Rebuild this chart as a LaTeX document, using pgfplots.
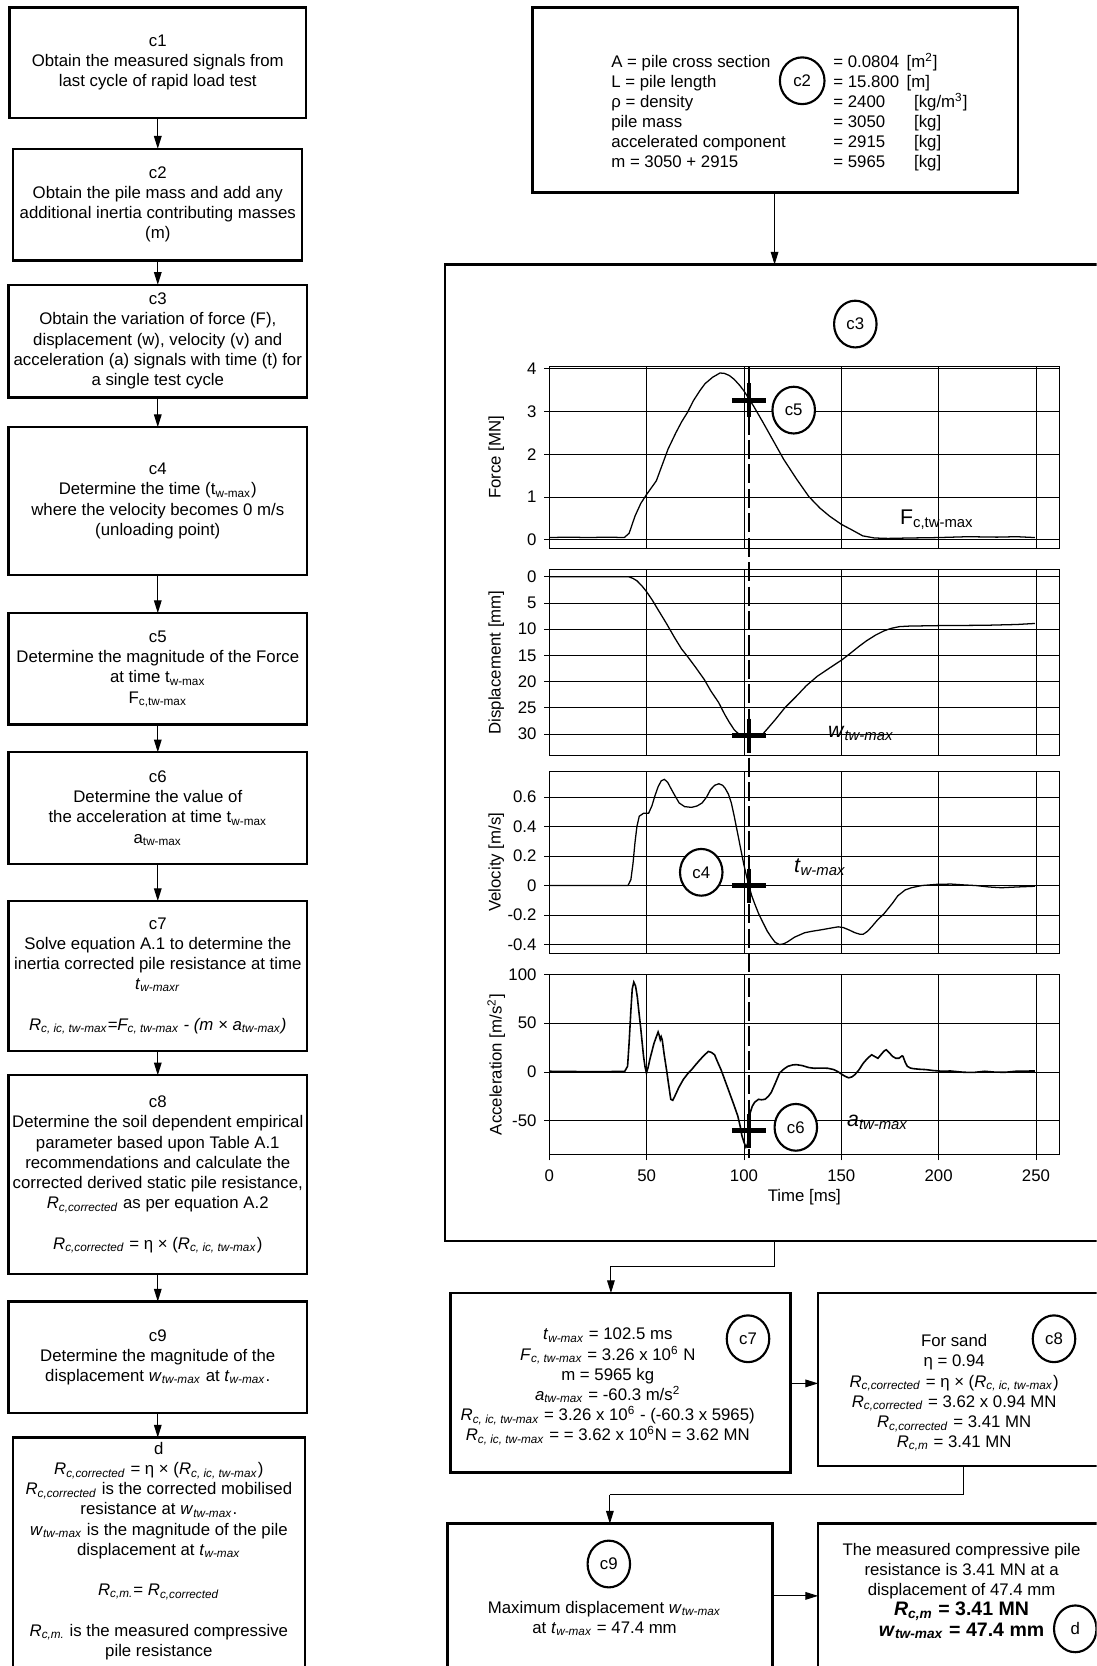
\documentclass[border=0pt]{standalone}
\usepackage{fontspec}
\setmainfont{Liberation Sans}
\usepackage{pgfplots}
\pgfplotsset{compat=1.18}
\usetikzlibrary{arrows.meta}

\newcommand\fs{\fontsize{7.9}{9.5}\selectfont}
\newcommand\fl{\fontsize{10}{12}\selectfont}
\newcommand\fb{\fontsize{9.2}{11}\selectfont\bfseries}
\newcommand\su[1]{\textsubscript{#1}}
\newcommand\si[1]{\textsubscript{\textit{#1}}}

% time histories of the last rapid load test cycle
\pgfplotstableread{
t F
0 0.05
10 0.06
20 0.05
30 0.06
38.5 0.05
41 0.15
44 0.55
47 0.85
50 1.06
53 1.25
55 1.38
58 1.75
61 2.12
65 2.5
68 2.76
71 2.98
74 3.25
77.4 3.49
80 3.65
83.9 3.8
87.7 3.9
90 3.89
92.5 3.84
95 3.75
97.8 3.61
100 3.48
102.5 3.3
105 3.12
109.7 2.75
115 2.32
120.4 1.88
127 1.42
133.3 1.01
139 0.74
144 0.55
150 0.36
155 0.24
161 0.09
167 0.04
174 0.03
185 0.04
200 0.05
215 0.07
230 0.06
240 0.07
249.5 0.05
}\force

\pgfplotstableread{
t w
0 0
20 0
40.9 0
43 0.3
45 0.75
47.5 1.7
50 2.85
53 4.5
55.9 6.3
60 8.8
64.5 11.7
68 13.8
71 15.2
75 17.2
79.6 19.6
83 21.8
87 24
90 26.2
92.5 27.8
95 29.2
97 29.9
100 30.3
102.5 30.5
106 30.4
109.7 30.0
113 28.6
116 27.3
121 25.0
126.9 22.8
132 20.8
137.6 19
144 17.4
150.5 15.8
155 14.5
159 13.3
163 12.2
167.7 11.1
172 10.3
176 9.8
180 9.5
185 9.4
202 9.3
223.6 9.25
240 9.1
249.5 8.9
}\displ

\pgfplotstableread{
t v
0 0
20 0
40.4 0
41.9 0.04
43 0.15
44 0.29
45 0.4
46.2 0.47
48.4 0.49
51 0.49
52.7 0.54
54.3 0.61
55.9 0.67
57.5 0.71
59.1 0.72
60.8 0.70
62.4 0.66
64.5 0.61
66.7 0.56
69.5 0.535
73.1 0.53
76 0.54
78.5 0.56
80.8 0.6
82.8 0.65
85 0.68
87.1 0.69
89 0.68
90.3 0.66
92 0.62
93.5 0.56
95 0.47
96.8 0.35
98.3 0.25
99.8 0.15
101.2 0.07
102.5 0
104 -0.07
105.4 -0.12
107.5 -0.19
109.7 -0.25
112 -0.31
114 -0.35
116 -0.385
118.3 -0.40
120.5 -0.395
122.6 -0.38
126 -0.35
131.2 -0.32
135 -0.31
139.8 -0.30
144 -0.29
148.4 -0.28
151 -0.285
153.8 -0.30
157 -0.32
159.5 -0.33
161.3 -0.33
163.5 -0.31
165.6 -0.28
168.5 -0.235
172 -0.19
176.3 -0.12
179 -0.07
182.8 -0.03
186 -0.015
191.4 0
199 0.008
206.5 0.01
212 0.005
219 0
226 -0.01
232.3 -0.015
240 -0.01
249.5 -0.005
}\veloc

\pgfplotstableread{
t a
0 0.7
10 0.5
20 0.3
30 0.4
38.7 0.5
40.2 5.8
41 30
41.9 63
42.6 85
43.4 92
44.3 88
45.2 77
46 62
46.9 46
47.7 30
48.4 16
49.2 5
49.9 -1
50.8 5
51.6 12.5
52.7 21
53.8 29.5
54.8 35
55.9 41
56.4 38
57 33
57.5 36
58 33
59 18
60.2 2.4
61.3 -13
62.4 -28
63.4 -29
64.5 -24.7
66.5 -16
68.8 -7.8
71 -2
73.1 2.4
75 7
77.4 12.5
79.5 17
81.7 21
83.3 20
84.9 17.6
86.5 10
88.2 2.4
90.3 -9
92.5 -21
94.7 -33
96.8 -45
98 -55
98.9 -65
100 -72
101 -77
101.8 -74
102.4 -62
102.8 -50
103.2 -41.7
104.3 -35
105.5 -31
107.5 -28
109 -28.5
110.8 -28
112.5 -25
114 -21
116 -12
118.3 -1
120.5 3
122.6 5.8
125 7.2
126.9 7.5
130 6.5
133.3 4.5
136 3.8
139.8 4
143 3.8
146.2 2.4
148.5 0
150.5 -2.7
152 -4.5
153.8 -6
155.5 -5
157 -2.7
159 2
161.3 9
163.5 14
165.6 17.6
167 16
168.8 14
170.5 18
172 21.5
173.1 22.7
174.5 20
176.3 16
178 14
179.6 14
181.2 16.5
181.7 16
182.8 10
183.9 5.8
185.5 4
187 3.4
190 2.8
193.5 2.4
197 1.5
202 0.7
206 1
212.9 -0.3
218 -0.5
223.7 0.7
229 -0.2
234.4 -0.3
240 0.8
249.5 1
}\accel

\pgfplotsset{
  panel/.style={
    anchor=north west, scale only axis, width=240pt,
    xmin=0, xmax=262, xtick={0,50,100,150,200,250},
    grid=major, major grid style={black, line width=0.4pt},
    axis line style={line width=0.5pt},
    tick align=outside, tick pos=left, major tick length=2.5pt,
    tick style={black, line width=0.4pt},
    tick label style={font=\fs},
    every axis y label/.style={at={(axis description cs:-0.104,0.5)}, rotate=90, anchor=center, font=\fs},
    every axis x label/.style={at={(axis description cs:0.5,-0.235)}, anchor=center, font=\fs},
  },
  upper/.style={xticklabels={}, xtick align=inside},
  curve/.style={black, line width=0.6pt},
  hit/.style={only marks, mark=+, mark size=8pt, mark options={line width=2.2pt, black}},
}

\tikzset{
  box/.style={draw, line width=1.15pt},
  txt/.style={align=center, font=\fs, inner sep=0pt},
  arr/.style={line width=0.5pt, -{Triangle[length=6pt,width=3.6pt]}},
  ln/.style={line width=0.5pt},
  tag/.style={font=\fl, anchor=base west, inner sep=0pt},
}

\begin{document}
\begin{tikzpicture}[x=0.5pt,y=-0.5pt]
\path[use as bounding box] (0,0) rectangle (1032,1568);
\clip (0,0) rectangle (1032,1568);

% ---------- left column: procedure ----------
\draw[box] (9,7) rectangle (288,111);
\node[txt] at (148.5,59) {c1\\Obtain the measured signals from\\last cycle of rapid load test};
\draw[arr] (148.5,111) -- (148.5,140);
\draw[box] (12,140) rectangle (284,245);
\node[txt] at (148.5,192.5) {c2\\Obtain the pile mass and add any\\additional inertia contributing masses\\(m)};
\draw[arr] (148.5,245) -- (148.5,268);
\draw[box] (8,268) rectangle (289,374);
\node[txt] at (148.5,321) {c3\\Obtain the variation of force (F),\\displacement (w), velocity (v) and\\acceleration (a) signals with time (t) for\\a single test cycle};
\draw[arr] (148.5,374) -- (148.5,402);
\draw[box] (8,402) rectangle (289,541);
\node[txt] at (148.5,471.5) {c4\\Determine the time (t\su{w-max})\\where the velocity becomes 0 m/s\\(unloading point)};
\draw[arr] (148.5,541) -- (148.5,577);
\draw[box] (8,577) rectangle (289,682);
\node[txt] at (148.5,629.5) {c5\\Determine the magnitude of the Force\\at time t\su{w-max}\\F\su{c,tw-max}};
\draw[arr] (148.5,682) -- (148.5,708);
\draw[box] (8,708) rectangle (289,813);
\node[txt] at (148.5,760.5) {c6\\Determine the value of\\the acceleration at time t\su{w-max}\\a\su{tw-max}};
\draw[arr] (148.5,813) -- (148.5,848);
\draw[box] (8,848) rectangle (289,989);
\node[txt] at (148.5,918.5) {c7\\Solve equation A.1 to determine the\\inertia corrected pile resistance at time\\\textit{t}\si{w-maxr}\\[9.5pt]\textit{R\si{c, ic, tw-max}=F\si{c, tw-max} - (m × a\si{tw-max})}};
\draw[arr] (148.5,989) -- (148.5,1012);
\draw[box] (8,1012) rectangle (289,1199);
\node[txt] at (148.5,1105.5) {c8\\Determine the soil dependent empirical\\parameter based upon Table A.1\\recommendations and calculate the\\corrected derived static pile resistance,\\\textit{R}\si{c,corrected} as per equation A.2\\[9.5pt]\textit{R}\si{c,corrected} = η × (\textit{R}\si{c, ic, tw-max})};
\draw[arr] (148.5,1199) -- (148.5,1225);
\draw[box] (8,1225) rectangle (289,1330);
\node[txt] at (148.5,1277.5) {c9\\Determine the magnitude of the\\displacement \textit{w}\si{tw-max} at \textit{t}\si{w-max}.};
\draw[arr] (148.5,1330) -- (148.5,1353);
\draw[box] (12,1353) rectangle (287,1600);
\node[txt, anchor=north] at (149.5,1357) {d\\\textit{R}\si{c,corrected} = η × (\textit{R}\si{c, ic, tw-max})\\\textit{R}\si{c,corrected} is the corrected mobilised\\resistance at \textit{w}\si{tw-max}.\\\textit{w}\si{tw-max} is the magnitude of the pile\\displacement at \textit{t}\si{w-max}\\[9.5pt]\textit{R}\si{c,m.}= \textit{R}\si{c,corrected}\\[9.5pt]\textit{R}\si{c,m.} is the measured compressive\\pile resistance};

% ---------- pile data ----------
\draw[box] (501,7) rectangle (958,181);
\draw[line width=1pt] (755,76) ellipse [x radius=21, y radius=22];
\node[font=\fs] at (755,76) {c2};
\begin{scope}[every node/.style={font=\fs, anchor=base west, inner sep=0pt}]
\node at (575,64) {A = pile cross section};
\node at (575,82.5) {L = pile length};
\node at (575,101.5) {ρ = density};
\node at (575,120) {pile mass};
\node at (575,139) {accelerated component};
\node at (575,158) {m = 3050 + 2915};
\node at (784,64) {= 0.0804};
\node at (784,82.5) {= 15.800};
\node at (784,101.5) {= 2400};
\node at (784,120) {= 3050};
\node at (784,139) {= 2915};
\node at (784,158) {= 5965};
\node at (853,64) {[m\textsuperscript{2}]};
\node at (853,82.5) {[m]};
\node at (860,101.5) {[kg/m\textsuperscript{3}]};
\node at (860,120) {[kg]};
\node at (860,139) {[kg]};
\node at (860,158) {[kg]};
\end{scope}
\draw[arr] (729,181) -- (729,249);

% ---------- measured signals ----------
\draw[box] (419,249) rectangle (1060,1168);
\draw[line width=1pt] (805,305) ellipse [x radius=20, y radius=22];
\node[font=\fs] at (805,305) {c3};

\begin{axis}[panel, upper, at={(258.5pt,-172.5pt)}, height=85.5pt,
  ymin=-0.2, ymax=4.05, ytick={0,1,2,3,4}, yticklabels={0,1,2,3,4},
  ylabel={Force [MN]}]
\addplot[curve] table[x=t,y=F] {\force};
\addplot[hit] coordinates {(102.5,3.26)};
\node[tag] at (axis cs:180,0.35) {F\su{c,tw-max}};
\coordinate (dtop) at (axis cs:102.5,4.05);
\end{axis}

\begin{axis}[panel, upper, at={(258.5pt,-268pt)}, height=87.5pt,
  y dir=reverse, ymin=-1.4, ymax=34.1, ytick={0,5,10,15,20,25,30},
  yticklabels={0,5,10,15,20,25,30}, ylabel={Displacement [mm]}]
\addplot[curve] table[x=t,y=w] {\displ};
\addplot[hit] coordinates {(102.5,30.3)};
\node[tag] at (axis cs:143,30.6) {\textit{w}\si{tw-max}};
\end{axis}

\begin{axis}[panel, upper, at={(258.5pt,-363pt)}, height=85.5pt,
  ymin=-0.458, ymax=0.774, ytick={-0.4,-0.2,0,0.2,0.4,0.6},
  yticklabels={-0.4,-0.2,0,0.2,0.4,0.6}, ylabel={Velocity [m/s]}]
\addplot[curve] table[x=t,y=v] {\veloc};
\addplot[hit] coordinates {(102.5,0)};
\node[tag] at (axis cs:125.5,0.09) {\textit{t}\si{w-max}};
\end{axis}

\begin{axis}[panel, at={(258.5pt,-458.5pt)}, height=85pt,
  ymin=-85, ymax=100, ytick={-50,0,50,100}, yticklabels={-50,0,50,100},
  xticklabels={0,50,100,150,200,250},
  x tick label style={yshift=-1pt},
  ylabel={Acceleration [m/s\textsuperscript{2}]}, xlabel={Time [ms]}]
\addplot[curve, line width=0.75pt] table[x=t,y=a] {\accel};
\addplot[hit] coordinates {(102.5,-60.3)};
\node[tag] at (axis cs:152.8,-55.4) {\textit{a}\si{tw-max}};
\coordinate (dbot) at (axis cs:102.5,-88);
\end{axis}

\draw[line width=1.1pt, dash pattern=on 9pt off 2.5pt] (dtop) -- (dbot);

% markers on the traces
\draw[line width=1pt, fill=white] (747,386) ellipse [x radius=20, y radius=22];
\node[font=\fs] at (747,386) {c5};
\draw[line width=1pt, fill=white] (660,821) ellipse [x radius=20, y radius=22];
\node[font=\fs] at (660,821) {c4};
\draw[line width=1pt, fill=white] (749,1061) ellipse [x radius=20, y radius=22];
\node[font=\fs] at (749,1061) {c6};

% ---------- evaluation ----------
\draw[ln] (729,1168) -- (729,1192) -- (575,1192);
\draw[arr] (575,1191.75) -- (575,1217);
\draw[box] (424,1217) rectangle (744,1386);
\draw[line width=1pt] (704,1260) ellipse [x radius=20, y radius=22];
\node[font=\fs] at (704,1260) {c7};
\node[txt] at (572,1305) {\textit{t}\si{w-max} = 102.5 ms\\\textit{F}\si{c, tw-max} = 3.26 x 10\textsuperscript{6} N\\m = 5965 kg\\\textit{a}\si{tw-max} = -60.3 m/s\textsuperscript{2}\\\textit{R}\si{c, ic, tw-max} = 3.26 x 10\textsuperscript{6} - (-60.3 x 5965)\\\textit{R}\si{c, ic, tw-max} = = 3.62 x 10\textsuperscript{6}N = 3.62 MN};
\draw[arr] (744,1302) -- (770,1302);
\draw[box] (770,1217) rectangle (1060,1380);
\draw[line width=1pt] (992,1260) ellipse [x radius=20, y radius=22];
\node[font=\fs] at (992,1260) {c8};
\node[txt] at (898,1311) {For sand\\η = 0.94\\\textit{R}\si{c,corrected} = η × (\textit{R}\si{c, ic, tw-max})\\\textit{R}\si{c,corrected} = 3.62 x 0.94 MN\\\textit{R}\si{c,corrected} = 3.41 MN\\\textit{R}\si{c,m} = 3.41 MN};
\draw[ln] (907,1380) -- (907,1407) -- (574,1407);
\draw[arr] (574,1406.75) -- (574,1434);
\draw[box] (421,1434) rectangle (727,1600);
\draw[line width=1pt] (573,1472) ellipse [x radius=20, y radius=22];
\node[font=\fs] at (573,1472) {c9};
\node[txt] at (569,1523) {Maximum displacement \textit{w}\si{tw-max}\\at \textit{t}\si{w-max} = 47.4 mm};
\draw[arr] (727,1502) -- (770,1502);
\draw[box] (770,1434) rectangle (1060,1600);
\node[txt, anchor=north] at (905,1452) {The measured compressive pile\\resistance is 3.41 MN at a\\displacement of 47.4 mm\\{\fb\textit{R}\si{c,m} = 3.41 MN}\\{\fb\textit{w}\si{tw-max} = 47.4 mm}};
\draw[line width=1pt] (1012,1533) ellipse [x radius=20, y radius=22];
\node[font=\fs] at (1012,1533) {d};
\end{tikzpicture}
\end{document}
